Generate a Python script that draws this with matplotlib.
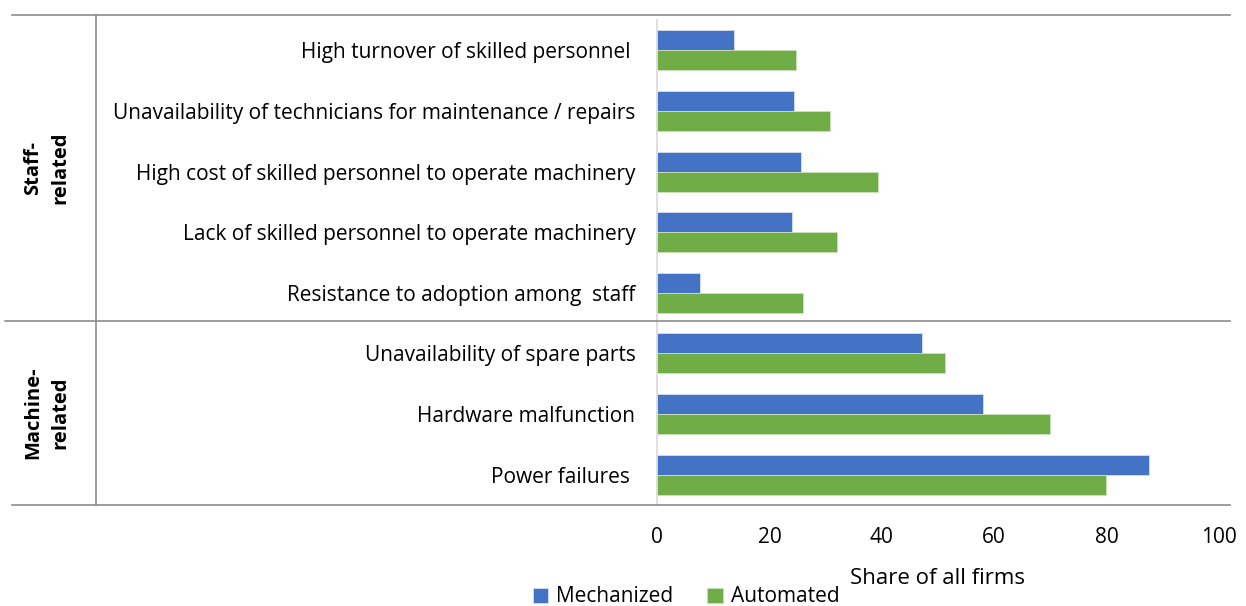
import matplotlib.pyplot as plt
import numpy as np
from matplotlib.lines import Line2D

# categories, top to bottom
categories = [
    "High turnover of skilled personnel ",
    "Unavailability of technicians for maintenance / repairs",
    "High cost of skilled personnel to operate machinery",
    "Lack of skilled personnel to operate machinery",
    "Resistance to adoption among  staff",
    "Unavailability of spare parts",
    "Hardware malfunction",
    "Power failures ",
]
mechanized = [13.7, 24.3, 25.6, 24.1, 7.6, 47.2, 58.0, 87.6]
automated = [24.7, 30.7, 39.4, 32.0, 26.0, 51.2, 69.9, 79.9]
groups = ["Staff-\nrelated", "Machine-\nrelated"]
xticks = [0, 20, 40, 60, 80, 100]

W, H = 1246, 606
fig = plt.figure(figsize=(W / 100, H / 100), dpi=100)
plt.rcParams['font.family'] = ['Open Sans', 'DejaVu Sans']

ax = fig.add_axes([657 / W, 1 - 505 / H, (1219 - 657) / W, (505 - 20) / H])

n = len(categories)
y = np.arange(n)
h = 0.33
ax.barh(y - h / 2, mechanized, height=h, color='#4472C4', edgecolor='#D6DFF0', linewidth=0.6, label='Mechanized')
ax.barh(y + h / 2, automated, height=h, color='#70AD47', edgecolor='#C9E2B8', linewidth=0.6, label='Automated')

ax.set_ylim(n - 0.5, -0.5)
ax.set_xlim(0, 100)
ax.set_yticks(y)
ax.set_yticklabels(categories, fontsize=15)
ax.set_xticks(xticks)
ax.tick_params(axis='x', labelsize=15, length=0, pad=16)
ax.tick_params(axis='y', length=0, pad=15.5)
for s in ['top', 'right', 'bottom']:
    ax.spines[s].set_visible(False)
ax.spines['left'].set_color('#D9D9D9')
ax.spines['left'].set_linewidth(1.2)
ax.set_xlabel("Share of all firms", fontsize=16, labelpad=14)

# group frame lines
lc = '#8C8C8C'
def fx(px):
    return px / W
def fy(py):
    return 1 - py / H
fig.add_artist(Line2D([fx(12), fx(1230)], [fy(15), fy(15)], color=lc, lw=1.2))
fig.add_artist(Line2D([fx(5), fx(1230)], [fy(321), fy(321)], color=lc, lw=1.2))
fig.add_artist(Line2D([fx(12), fx(1230)], [fy(505), fy(505)], color=lc, lw=1.2))
fig.add_artist(Line2D([fx(96), fx(96)], [fy(15), fy(505)], color=lc, lw=1.2))

fig.text(fx(47), fy(168), groups[0], rotation=90, ha='center', va='center',
         fontsize=14.5, fontweight='bold', linespacing=1.5)
fig.text(fx(47), fy(413), groups[1], rotation=90, ha='center', va='center',
         fontsize=14.5, fontweight='bold', linespacing=1.5)

fig.legend(loc='center', bbox_to_anchor=(fx(686), fy(597)), ncol=2, frameon=False,
           fontsize=15, handlelength=0.75, handleheight=0.75, columnspacing=1.6,
           handletextpad=0.4)

fig.savefig('out.png', dpi=100)
